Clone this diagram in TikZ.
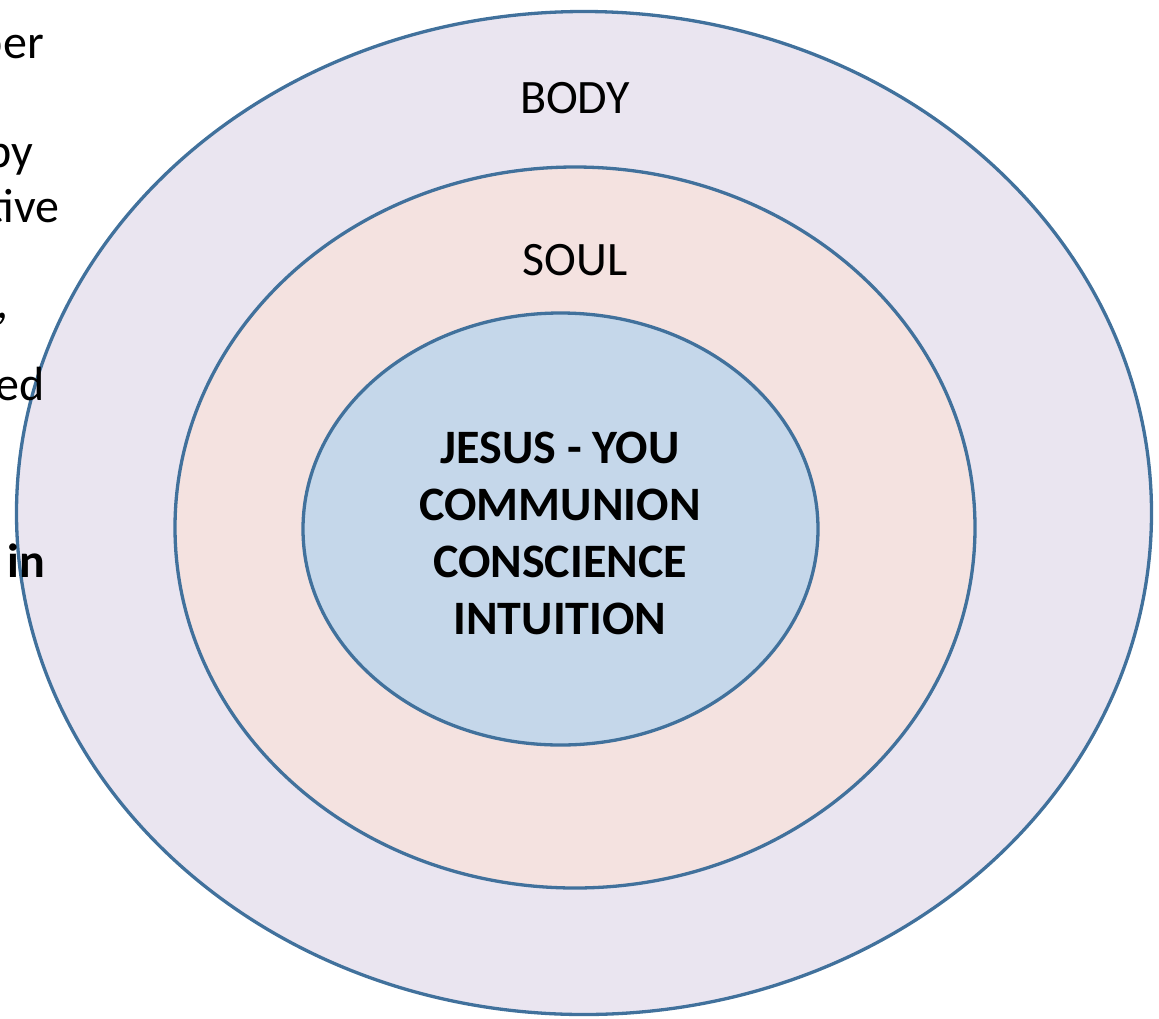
\documentclass[tikz,border=0pt]{standalone}
\usepackage{fontspec}
\setmainfont{Carlito}
\usetikzlibrary{shapes.geometric, positioning}

\definecolor{ringline}{RGB}{65,113,156}
\definecolor{bodyfill}{RGB}{234,229,240}
\definecolor{soulfill}{RGB}{244,226,224}
\definecolor{spiritfill}{RGB}{197,215,234}

\begin{document}
\begin{tikzpicture}[x=1pt, y=1pt,
        layer/.style = {draw=ringline, line width=3.3pt, ellipse, inner sep=0pt},
        word/.style = {font=\fontsize{48}{57}\selectfont, inner sep=0pt},
      ]
      \useasboundingbox (0,0) rectangle (1159,-1018);
      \clip (0,0) rectangle (1159,-1018);
      % rings
      \node[layer, fill=bodyfill, minimum width=1135pt, minimum height=1003pt] (body) at (584,-513) {};
      \node[layer, fill=soulfill, minimum width=800pt, minimum height=721pt] (soul) at (575,-527.5) {};
      \node[layer, fill=spiritfill, minimum width=515pt, minimum height=432pt] (spirit) at (560.5,-529) {};
      % labels
      \node[word, anchor=base] (bodylbl) at (575,-113) {BODY};
      \node[word, anchor=base] (soullbl) at (575,-275) {SOUL};
      \node[word, font=\fontsize{48}{57}\selectfont\bfseries, align=center] (core) at (560,-533)
        {JESUS - YOU\\COMMUNION\\CONSCIENCE\\INTUITION};
      % cut-off side text
      \node[word, anchor=base east] (side1) at (44,-58) {per};
      \node[word, anchor=base east] (side2) at (33,-167) {by};
      \node[word, anchor=base east] (side3) at (60,-222) {tive};
      \node[word, anchor=base east] (side4) at (9,-318) {,};
      \node[word, anchor=base east] (side5) at (45,-400) {ed};
      \node[word, font=\fontsize{48}{57}\selectfont\bfseries, anchor=base east] (side6) at (45,-577) {in};
    \end{tikzpicture}
\end{document}
